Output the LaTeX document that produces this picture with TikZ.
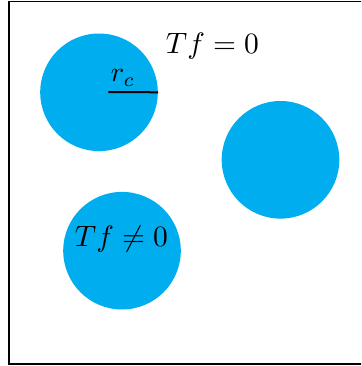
\documentclass[tikz,border=0pt]{standalone}
\definecolor{disc}{RGB}{0,174,239}
\tikzset{
  region/.style={circle, fill=disc, draw=none, minimum size=117.6pt, inner sep=0pt},
  lbl/.style={scale=2.95, anchor=base, inner sep=0pt},
  frame/.style={draw=black, line width=1.5pt},
}
\begin{document}
\begin{tikzpicture}[x=1pt,y=-1pt]
\useasboundingbox (0,0) rectangle (361,366);
\begin{scope}
\clip (0,0) rectangle (361,366);
\draw[frame] (8.8,1.6) rectangle (364,363.8);
\end{scope}
\node[region] (c1) at (99,92.3) {};
\node[region] (c2) at (280.5,159.8) {};
\node[region] (c3) at (122,250.7) {};
\coordinate (rc) at (108.3,92);
\draw[line width=2pt] (rc) -- (c1.east);
\node[lbl, scale=0.95] (lrc) at (123,82) {$r_c$};
\node[lbl] (l0) at (212.5,53.5) {$Tf=0$};
\node[lbl] (l1) at (121.5,246) {$Tf\neq0$};
\end{tikzpicture}
\end{document}
